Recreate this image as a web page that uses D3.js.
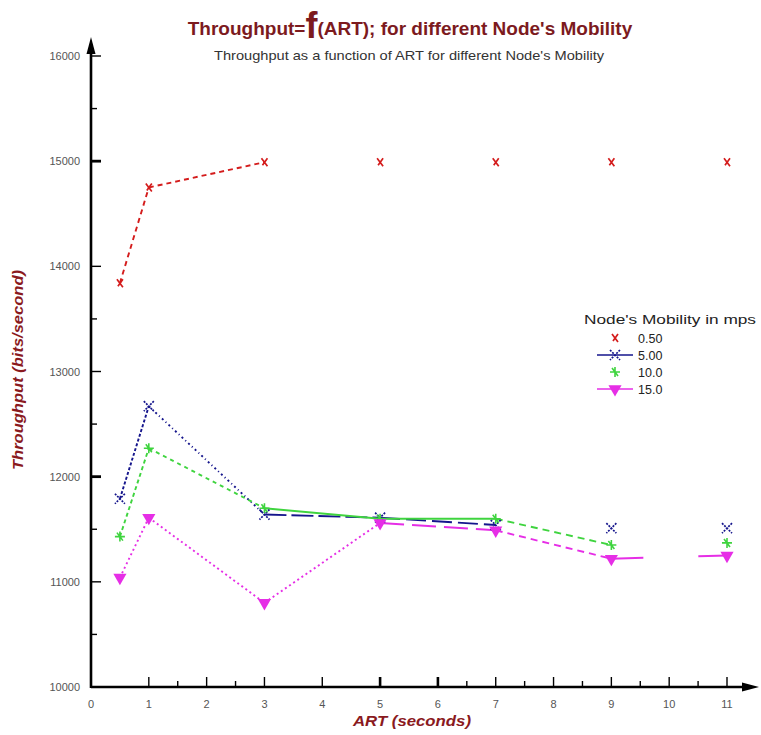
<!DOCTYPE html>
<html>
<head>
<meta charset="utf-8">
<script src="https://cdn.jsdelivr.net/npm/d3@7"></script>
<style>
  html, body { margin: 0; padding: 0; background: #fff; }
  svg { display: block; }
  text { font-family: "Liberation Sans", Arial, sans-serif; }
</style>
</head>
<body>
<script>
// ART values (seconds) at which throughput was measured
const art = [0.5, 1, 3, 5, 7, 9, 11];

// Throughput (bits/second) for each node mobility (m/s)
const mob050 = [13840, 14750, 14990, 14990, 14990, 14990, 14990];
const mob500 = [11790, 12670, 11640, 11610, 11540, 11510, 11510];
const mob100 = [11430, 12270, 11700, 11600, 11600, 11350, 11370];
const mob150 = [11040, 11610, 10800, 11560, 11490, 11220, 11250];

const seriesNames = ["0.50", "5.00", "10.0", "15.0"];

// Axis ticks
const xMajorTicks = [1, 2, 3, 4, 5, 6, 7, 8, 9, 10, 11];
const xMinorTicks = [1.5, 2.5, 6.5, 7.5, 8.5, 9.5, 10.5];
const yMajorTicks = [10000, 11000, 12000, 13000, 14000, 15000, 16000];
const yMinorTicks = [10500, 11500, 12500, 13500, 15500];
const xTickLabels = ["0", "1", "2", "3", "4", "5", "6", "7", "8", "9", "10", "11"];

const W = 761, H = 735;
const svg = d3.select("body").append("svg").attr("width", W).attr("height", H);

const x = d3.scaleLinear().domain([0, 11]).range([91, 727]);
const y = d3.scaleLinear().domain([10000, 16000]).range([687, 56]);

// Per-series look: colour, marker kind and the dash pattern of each segment
// (null = points are not joined on that segment, "none" = solid)
const looks = [
  { color: "#d41c1c", marker: "cross", segs: ["5,4", "5,4", null, null, null, null] },
  { color: "#15158c", marker: "x", segs: ["3,2", "2,3,1,3", "22,5", "20,6", null, null] },
  { color: "#3fd43f", marker: "star", segs: ["4,3", "4,4", "none", "none", "7,5", null] },
  { color: "#e62ee6", marker: "tri", segs: ["2,3", "2,3", "2,3", "24,8", "7,5", "32,55,30"] }
];
const series = [mob050, mob500, mob100, mob150];

// ---- Axes ----
const ax = svg.append("g").attr("stroke", "#000").attr("fill", "none");
ax.append("line").attr("x1", x(0)).attr("x2", 748).attr("y1", y(10000)).attr("y2", y(10000)).attr("stroke-width", 2.6);
ax.append("line").attr("x1", x(0)).attr("x2", x(0)).attr("y1", y(10000) + 1).attr("y2", 48).attr("stroke-width", 2.6);
svg.append("path")
  .attr("d", `M${x(0) - 4.5},${54} L${x(0)},${37} L${x(0) + 4.5},${54} Z`).attr("fill", "#000");
svg.append("path")
  .attr("d", `M${742},${y(10000) - 4.5} L${759},${y(10000)} L${742},${y(10000) + 4.5} Z`).attr("fill", "#000");

// x ticks (pointing inward)
const gx = svg.append("g").attr("stroke", "#000");
gx.selectAll("line.maj").data(xMajorTicks).join("line")
  .attr("x1", d => x(d)).attr("x2", d => x(d))
  .attr("y1", y(10000)).attr("y2", y(10000) - 10)
  .attr("stroke-width", d => (d === 5 || d === 6) ? 2.6 : 1.4);
gx.selectAll("line.min").data(xMinorTicks).join("line")
  .attr("x1", d => x(d)).attr("x2", d => x(d))
  .attr("y1", y(10000)).attr("y2", y(10000) - 6)
  .attr("stroke-width", 1.4);

svg.append("g").selectAll("text").data(xTickLabels).join("text")
  .attr("x", (d, i) => x(i)).attr("y", 708)
  .attr("text-anchor", "middle").attr("font-size", 11).attr("fill", "#555")
  .text(d => d);

// y ticks
const gy = svg.append("g").attr("stroke", "#000");
gy.selectAll("line.maj").data(yMajorTicks).join("line")
  .attr("x1", x(0)).attr("x2", x(0) + 10)
  .attr("y1", d => y(d)).attr("y2", d => y(d))
  .attr("stroke-width", d => (d === 15000 || d === 12000) ? 2.8 : 1.4);
gy.selectAll("line.min").data(yMinorTicks).join("line")
  .attr("x1", x(0)).attr("x2", x(0) + 6)
  .attr("y1", d => y(d)).attr("y2", d => y(d))
  .attr("stroke-width", 1.4);

svg.append("g").selectAll("text").data(yMajorTicks).join("text")
  .attr("x", 80).attr("y", d => y(d) + 4)
  .attr("text-anchor", "end").attr("font-size", 11).attr("fill", "#555")
  .text(d => d3.format("d")(d));

// ---- Titles ----
const title = svg.append("text").attr("x", 410).attr("y", 35).attr("text-anchor", "middle")
  .attr("fill", "#7c1a1e").attr("font-weight", "bold").attr("font-size", 19);
title.append("tspan").text("Throughput=");
title.append("tspan").attr("font-size", 36).attr("dy", 3).text("f");
title.append("tspan").attr("dy", -3).text("(ART); for different Node's Mobility");

svg.append("text").attr("x", 409).attr("y", 60).attr("text-anchor", "middle")
  .attr("font-size", 13).attr("fill", "#333")
  .attr("textLength", 390).attr("lengthAdjust", "spacingAndGlyphs")
  .text("Throughput as a function of ART for different Node's Mobility");

svg.append("text").attr("transform", "translate(23,370) rotate(-90)").attr("text-anchor", "middle")
  .attr("font-size", 15).attr("font-weight", "bold").attr("font-style", "italic").attr("fill", "#8a1a1e")
  .attr("textLength", 200).attr("lengthAdjust", "spacingAndGlyphs")
  .text("Throughput (bits/second)");

svg.append("text").attr("x", 412).attr("y", 726).attr("text-anchor", "middle")
  .attr("font-size", 14).attr("font-weight", "bold").attr("font-style", "italic").attr("fill", "#8a1a1e")
  .attr("textLength", 118).attr("lengthAdjust", "spacingAndGlyphs")
  .text("ART (seconds)");

// ---- Markers ----
function drawMarker(g, kind, color, cx, cy) {
  const m = g.append("g").attr("transform", `translate(${cx},${cy})`);
  if (kind === "cross") {
    m.append("path").attr("d", "M-3,-4L3,4M3,-4L-2,3").attr("stroke", color).attr("stroke-width", 1.7).attr("fill", "none");
  } else if (kind === "x") {
    m.append("path").attr("d", "M-5,-5L5,5M5,-5L-5,5").attr("stroke", color).attr("stroke-width", 1.7)
      .attr("stroke-dasharray", "2,1.2").attr("fill", "none");
  } else if (kind === "star") {
    m.append("path").attr("d", "M-5,0L5,0M0,-5L0,5M-3,-4L3,4").attr("stroke", color).attr("stroke-width", 1.6).attr("fill", "none");
  } else if (kind === "tri") {
    m.append("path").attr("d", d3.symbol().type(d3.symbolTriangle).size(75)())
      .attr("transform", "rotate(180)").attr("fill", color);
  }
}

// ---- Series ----
const plot = svg.append("g");
series.forEach((vals, si) => {
  const look = looks[si];
  const g = plot.append("g");
  for (let i = 0; i < art.length - 1; i++) {
    const dash = look.segs[i];
    if (dash === null) continue;
    g.append("line")
      .attr("x1", x(art[i])).attr("y1", y(vals[i]))
      .attr("x2", x(art[i + 1])).attr("y2", y(vals[i + 1]))
      .attr("stroke", look.color).attr("stroke-width", 1.9)
      .attr("stroke-dasharray", dash === "none" ? null : dash);
  }
});
series.forEach((vals, si) => {
  const look = looks[si];
  vals.forEach((v, i) => drawMarker(plot, look.marker, look.color, x(art[i]), y(v)));
});

// ---- Legend ----
const lg = svg.append("g");
lg.append("text").attr("x", 584).attr("y", 324).attr("font-size", 12.5).attr("fill", "#222")
  .attr("textLength", 172).attr("lengthAdjust", "spacingAndGlyphs")
  .text("Node's Mobility in mps");
seriesNames.forEach((name, i) => {
  const ly = 338 + i * 17;
  const look = looks[i];
  if (i === 1 || i === 3) {
    lg.append("line").attr("x1", 597).attr("x2", 633).attr("y1", ly).attr("y2", ly)
      .attr("stroke", look.color).attr("stroke-width", 1.7);
  }
  drawMarker(lg, look.marker, look.color, 615, ly);
  lg.append("text").attr("x", 638).attr("y", ly + 4.5).attr("font-size", 12.5).attr("fill", "#222").text(name);
});
</script>
</body>
</html>
